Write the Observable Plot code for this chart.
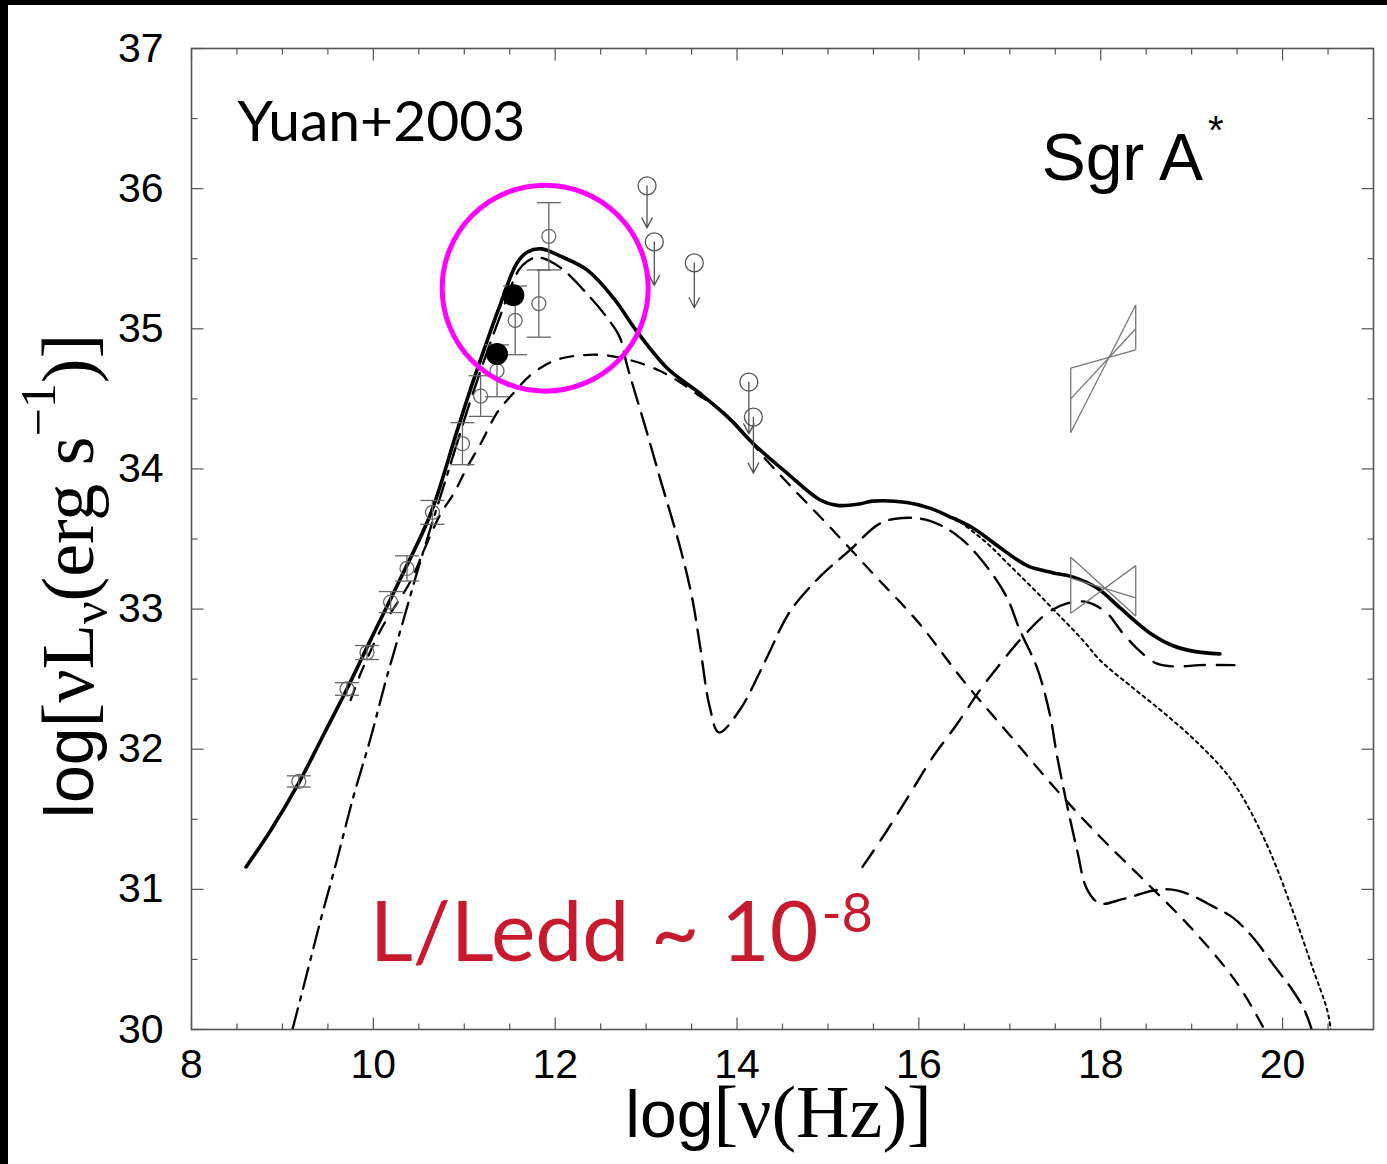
<!DOCTYPE html>
<html><head><meta charset="utf-8">
<script src="https://cdn.jsdelivr.net/npm/d3@7"></script>
<script src="https://cdn.jsdelivr.net/npm/@observablehq/plot@0.6"></script>
<style>
html,body{margin:0;padding:0;background:#fff;}
#wrap{position:relative;width:1387px;height:1164px;overflow:hidden;background:#fff;}
#barL{position:absolute;left:0;top:0;width:8px;height:1164px;background:#000;}
#barT{position:absolute;left:0;top:0;width:1387px;height:5px;background:#000;}
svg{display:block;}
</style></head><body>
<div id="wrap"><div id="chart"></div><div id="barL"></div><div id="barT"></div></div>
<script>
// ---- tick values ----
const xTickLabels = [8, 10, 12, 14, 16, 18, 20];
const xMinorTicks = [8.5, 9, 9.5, 10.5, 11, 11.5, 12.5, 13, 13.5, 14.5, 15, 15.5, 16.5, 17, 17.5, 18.5, 19, 19.5, 20.5];
const yTickLabels = [30, 31, 32, 33, 34, 35, 36, 37];
const yMinorTicks = [30.5, 31.5, 32.5, 33.5, 34.5, 35.5, 36.5];

// ---- model curves (log nu, log nuLnu) ----
const totalX = [8.6, 8.87, 9.18, 9.45, 9.71, 9.97, 10.3, 10.63, 10.92, 11.1, 11.4, 11.58, 11.7, 11.85, 12.05, 12.35, 12.64, 12.9, 13.23, 13.59, 13.9, 14.18, 14.55, 14.91, 15.1, 15.35, 15.49, 15.87, 16.12, 16.37, 16.59, 16.89, 17.19, 17.47, 17.69, 17.96, 18.21, 18.54, 18.79, 19.01, 19.31];
const totalY = [31.16, 31.42, 31.76, 32.1, 32.43, 32.78, 33.22, 33.68, 34.27, 34.63, 35.18, 35.47, 35.55, 35.57, 35.52, 35.42, 35.22, 34.98, 34.72, 34.54, 34.37, 34.18, 33.97, 33.78, 33.74, 33.75, 33.77, 33.76, 33.72, 33.65, 33.58, 33.44, 33.31, 33.26, 33.23, 33.15, 33.01, 32.83, 32.74, 32.70, 32.68];

const thermRiseX = [9.11, 9.23, 9.42, 9.60, 9.78, 9.97, 10.15, 10.33, 10.48, 10.63, 10.77, 10.88];
const thermRiseY = [30.0, 30.30, 30.78, 31.21, 31.66, 32.08, 32.52, 32.92, 33.26, 33.58, 33.87, 34.10];
const thermX = [10.88, 11.1, 11.4, 11.6, 11.69, 11.81, 12.05, 12.35, 12.57, 12.71, 12.79, 13.0, 13.15, 13.37, 13.5, 13.59, 13.7, 13.8, 14.03, 14.31, 14.58, 14.91, 15.24, 15.57, 15.82, 16.12, 16.45, 16.75, 16.97, 17.11, 17.30, 17.44, 17.52, 17.63, 17.74, 17.85, 17.99, 18.24, 18.57, 18.76, 18.95, 19.23, 19.45, 19.67, 19.89, 20.11, 20.24, 20.32];
const thermY = [34.10, 34.55, 35.1, 35.42, 35.48, 35.51, 35.44, 35.25, 35.08, 34.94, 34.74, 34.28, 33.94, 33.45, 33.1, 32.75, 32.3, 32.12, 32.28, 32.63, 32.98, 33.23, 33.42, 33.61, 33.65, 33.63, 33.51, 33.30, 33.08, 32.85, 32.58, 32.25, 31.95, 31.6, 31.28, 31.0, 30.9, 30.93, 30.99, 31.0, 30.97, 30.88, 30.80, 30.66, 30.47, 30.28, 30.14, 30.0];

const nonthX = [9.75, 9.86, 10.08, 10.19, 10.41, 10.59, 10.74, 10.88, 11.03, 11.18, 11.36, 11.54, 11.73, 11.98, 12.27, 12.57, 12.86, 13.15, 13.37, 13.59, 13.74, 14.0, 14.3, 14.6, 15.0, 15.5, 16.0, 16.5, 17.0, 17.5, 18.0, 18.5, 19.0, 19.5, 19.8];
const nonthY = [32.35, 32.54, 32.85, 32.97, 33.2, 33.47, 33.68, 33.82, 34.01, 34.18, 34.40, 34.54, 34.67, 34.77, 34.81, 34.81, 34.77, 34.70, 34.62, 34.52, 34.46, 34.31, 34.08, 33.87, 33.6, 33.25, 32.9, 32.48, 32.1, 31.72, 31.37, 31.05, 30.72, 30.33, 30.0];

const comptX = [15.38, 15.65, 15.90, 16.15, 16.42, 16.67, 16.92, 17.14, 17.41, 17.63, 17.85, 18.07, 18.24, 18.43, 18.62, 18.84, 19.09, 19.47];
const comptY = [31.16, 31.42, 31.68, 31.94, 32.18, 32.42, 32.63, 32.80, 32.97, 33.04, 33.05, 32.97, 32.83, 32.70, 32.61, 32.59, 32.60, 32.60];

const dottedX = [16.4, 16.48, 16.75, 16.97, 17.25, 17.55, 17.80, 18.0, 18.35, 18.73, 19.09, 19.45, 19.82, 20.11, 20.33, 20.49, 20.53];
const dottedY = [33.65, 33.61, 33.47, 33.33, 33.15, 32.95, 32.78, 32.63, 32.44, 32.24, 32.03, 31.77, 31.33, 30.85, 30.44, 30.14, 30.0];

// ---- observations ----
const obsX = [9.18, 9.71, 9.93, 10.19, 10.37, 10.65, 10.98, 11.18, 11.36, 11.56, 11.82, 11.93];
const obsY = [31.77, 32.43, 32.69, 33.05, 33.29, 33.69, 34.18, 34.52, 34.70, 35.06, 35.18, 35.66];
const obsErr = [0.04, 0.045, 0.05, 0.075, 0.09, 0.085, 0.15, 0.145, 0.185, 0.245, 0.24, 0.24];
const filledX = [11.36, 11.54];
const filledY = [34.82, 35.24];
const ulX = [13.01, 13.09, 13.53, 14.13, 14.18];
const ulY = [36.02, 35.62, 35.47, 34.62, 34.37];
const ulTip = [35.72, 35.31, 35.15, 34.25, 33.97];

// X-ray bowties
const bowLeftX = 17.67, bowRightX = 18.385;
const flareLeftY = [34.72, 34.50, 34.26];
const flareRightY = [34.85, 35.00, 35.17];
const quietLeftY = [33.37, 33.22, 32.97];
const quietRightY = [32.95, 33.08, 33.31];

// highlight circle center
const ringX = [11.89];
const ringY = [35.29];

// annotation text anchors (data coords)
const annText = ["Yuan+2003", "Sgr A", "L/Ledd ~ 10"];
const annX = [8.505, 17.35, 9.96];
const annY = [36.34, 36.06, 30.49];
const xTitle = "log[ν(Hz)]";
const yTitle = "log[νLν(erg s−1)]";

// ---- custom symbols ----
const rOf = (size) => Math.sqrt(size / Math.PI);
const tickUp = {draw(c, s) { const r = rOf(s); c.moveTo(0, 0); c.lineTo(0, -r); }};
const tickDown = {draw(c, s) { const r = rOf(s); c.moveTo(0, 0); c.lineTo(0, r); }};
const tickRight = {draw(c, s) { const r = rOf(s); c.moveTo(0, 0); c.lineTo(r, 0); }};
const tickLeft = {draw(c, s) { const r = rOf(s); c.moveTo(0, 0); c.lineTo(-r, 0); }};
const hbar = {draw(c, s) { const r = rOf(s); c.moveTo(-r, 0); c.lineTo(r, 0); }};

const axisGrey = "#555";
const ptGrey = "#666";
const sans = "'Liberation Sans', Arial, Helvetica, sans-serif";
const serif = "'Liberation Serif', 'Times New Roman', Times, serif";
const calib = "Lato, 'Open Sans', sans-serif";

const idx = (a) => a.map((_, i) => i);

const bowLinks = [];
flareLeftY.forEach((v, i) => bowLinks.push({x1: bowLeftX, y1: v, x2: bowRightX, y2: flareRightY[i]}));
quietLeftY.forEach((v, i) => bowLinks.push({x1: bowLeftX, y1: v, x2: bowRightX, y2: quietRightY[i]}));
bowLinks.push({x1: bowLeftX, y1: d3.min(flareLeftY), x2: bowLeftX, y2: d3.max(flareLeftY)});
bowLinks.push({x1: bowRightX, y1: d3.min(flareRightY), x2: bowRightX, y2: d3.max(flareRightY)});
bowLinks.push({x1: bowLeftX, y1: d3.min(quietLeftY), x2: bowLeftX, y2: d3.max(quietLeftY)});
bowLinks.push({x1: bowRightX, y1: d3.min(quietRightY), x2: bowRightX, y2: d3.max(quietRightY)});

const chart = Plot.plot({
  width: 1387, height: 1164,
  marginLeft: 191, marginRight: 14, marginTop: 48, marginBottom: 135,
  style: {fontFamily: sans, fontSize: "41px", background: "white", color: "black", overflow: "visible"},
  x: {domain: [8, 21], ticks: xTickLabels, tickFormat: d => String(d), tickSize: 0, tickPadding: 19, label: null},
  y: {domain: [30, 37], ticks: yTickLabels, tickFormat: d => String(d), tickSize: 0, tickPadding: 28, label: null},
  marks: [
    Plot.frame({stroke: axisGrey, strokeWidth: 1.6}),
    // inward ticks
    Plot.dot(xTickLabels, {x: d => d, y: () => 30, symbol: tickUp, r: 12, stroke: axisGrey, strokeWidth: 1.2}),
    Plot.dot(xMinorTicks, {x: d => d, y: () => 30, symbol: tickUp, r: 6, stroke: axisGrey, strokeWidth: 1.2}),
    Plot.dot(xTickLabels, {x: d => d, y: () => 37, symbol: tickDown, r: 12, stroke: axisGrey, strokeWidth: 1.2}),
    Plot.dot(xMinorTicks, {x: d => d, y: () => 37, symbol: tickDown, r: 6, stroke: axisGrey, strokeWidth: 1.2}),
    Plot.dot(yTickLabels, {x: () => 8, y: d => d, symbol: tickRight, r: 12, stroke: axisGrey, strokeWidth: 1.2}),
    Plot.dot(yMinorTicks, {x: () => 8, y: d => d, symbol: tickRight, r: 6, stroke: axisGrey, strokeWidth: 1.2}),
    Plot.dot(yTickLabels, {x: () => 21, y: d => d, symbol: tickLeft, r: 12, stroke: axisGrey, strokeWidth: 1.2}),
    Plot.dot(yMinorTicks, {x: () => 21, y: d => d, symbol: tickLeft, r: 6, stroke: axisGrey, strokeWidth: 1.2}),

    // model components
    Plot.line(idx(thermRiseX), {x: i => thermRiseX[i], y: i => thermRiseY[i], curve: "catmull-rom", stroke: "black", strokeWidth: 2.3, strokeDasharray: "22,8,4,8", clip: true}),
    Plot.line(idx(thermX), {x: i => thermX[i], y: i => thermY[i], curve: "catmull-rom", stroke: "black", strokeWidth: 2.4, strokeDasharray: "22,10", clip: true}),
    Plot.line(idx(nonthX), {x: i => nonthX[i], y: i => nonthY[i], curve: "catmull-rom", stroke: "black", strokeWidth: 2.3, strokeDasharray: "13,11", clip: true}),
    Plot.line(idx(comptX), {x: i => comptX[i], y: i => comptY[i], curve: "catmull-rom", stroke: "black", strokeWidth: 2.4, strokeDasharray: "20,12", clip: true}),
    Plot.line(idx(dottedX), {x: i => dottedX[i], y: i => dottedY[i], curve: "catmull-rom", stroke: "black", strokeWidth: 2, strokeDasharray: "3,4", clip: true}),
    Plot.line(idx(totalX), {x: i => totalX[i], y: i => totalY[i], curve: "catmull-rom", stroke: "black", strokeWidth: 3.6}),

    // bowties
    Plot.link(bowLinks, {x1: "x1", y1: "y1", x2: "x2", y2: "y2", stroke: "#777", strokeWidth: 1.3}),

    // data with error bars
    Plot.ruleX(idx(obsX), {x: i => obsX[i], y1: i => obsY[i] - obsErr[i], y2: i => obsY[i] + obsErr[i], stroke: ptGrey, strokeWidth: 1.3}),
    Plot.dot(idx(obsX), {x: i => obsX[i], y: i => obsY[i] - obsErr[i], symbol: hbar, r: 12, stroke: ptGrey, strokeWidth: 1.3}),
    Plot.dot(idx(obsX), {x: i => obsX[i], y: i => obsY[i] + obsErr[i], symbol: hbar, r: 12, stroke: ptGrey, strokeWidth: 1.3}),
    Plot.dot(idx(obsX), {x: i => obsX[i], y: i => obsY[i], r: 7, stroke: ptGrey, strokeWidth: 1.3, fill: "none"}),
    Plot.dot(idx(filledX), {x: i => filledX[i], y: i => filledY[i], r: 11, fill: "black", stroke: "none"}),

    // upper limits
    Plot.arrow(idx(ulX), {x1: i => ulX[i], y1: i => ulY[i], x2: i => ulX[i], y2: i => ulTip[i], headLength: 13, headAngle: 55, stroke: "#555", strokeWidth: 1.3}),
    Plot.dot(idx(ulX), {x: i => ulX[i], y: i => ulY[i], r: 9, stroke: "#555", strokeWidth: 1.3, fill: "none"}),

    // highlight ring
    Plot.dot(idx(ringX), {x: i => ringX[i], y: i => ringY[i], r: 103, stroke: "#ff00ff", strokeWidth: 5, fill: "none"}),

    // annotations
    Plot.text([0], {x: i => annX[i], y: i => annY[i], text: i => annText[i], textAnchor: "start", lineAnchor: "bottom", fontFamily: calib, fontSize: 57, fill: "black"}),
    Plot.text([1], {x: i => annX[i], y: i => annY[i], text: i => annText[i], textAnchor: "start", lineAnchor: "bottom", fontFamily: sans, fontSize: 66, fill: "black"}),
    Plot.text([2], {x: i => annX[i], y: i => annY[i], text: i => annText[i], textAnchor: "start", lineAnchor: "bottom", fontFamily: calib, fontSize: 84, fill: "#c81a2e"}),

    // axis titles
    Plot.text([xTitle], {frameAnchor: "bottom", dy: 107, dx: -4, lineAnchor: "bottom", textAnchor: "middle", fontSize: 68, fill: "black"}),
    Plot.text([yTitle], {frameAnchor: "left", dx: -99, dy: 37, rotate: -90, lineAnchor: "bottom", textAnchor: "middle", fontSize: 70, fill: "black"})
  ]
});

function rich(svg, content, parts) {
  const t = d3.select(svg).selectAll("text").filter(function() { return this.textContent === content; });
  if (t.empty()) return;
  const node = d3.select(t.node());
  node.text(null);
  for (const p of parts) {
    const s = node.append("tspan").text(p.t);
    if (p.family) s.attr("font-family", p.family);
    if (p.size) s.attr("font-size", p.size);
    if (p.dy) s.attr("dy", p.dy);
    if (p.dx) s.attr("dx", p.dx);
  }
}
rich(chart, xTitle, [
  {t: "log", family: sans, size: 66},
  {t: "[ν(Hz)]", family: serif, size: 74}
]);
rich(chart, yTitle, [
  {t: "log", family: sans, size: 68},
  {t: "[νL", family: serif, size: 74},
  {t: "ν", family: serif, size: 50, dy: 14},
  {t: "(erg s", family: serif, size: 74, dy: -14},
  {t: "−1", family: serif, size: 50, dy: -38},
  {t: ")]", family: serif, size: 74, dy: 38}
]);
rich(chart, annText[1], [
  {t: "Sgr A"},
  {t: "*", size: 40, dx: 5, dy: -36}
]);
rich(chart, annText[2], [
  {t: "L/Ledd ~ 10"},
  {t: "-8", size: 54, dx: 3, dy: -29}
]);

document.getElementById("chart").appendChild(chart);
</script></body></html>
